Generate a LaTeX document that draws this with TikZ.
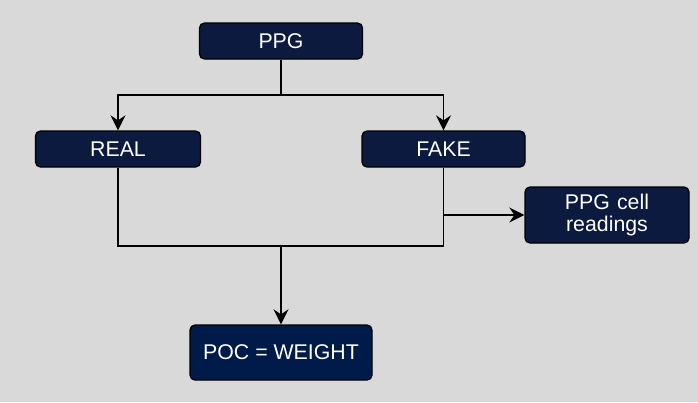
\documentclass[tikz,border=0pt]{standalone}
\usepackage{fontspec}
\setmainfont{Liberation Sans}
\usetikzlibrary{arrows.meta}
\definecolor{bgc}{HTML}{D9D9D9}
\definecolor{boxc}{HTML}{0B1A3E}
\definecolor{boxd}{HTML}{001A4A}
\begin{document}
\begin{tikzpicture}[x=1pt,y=-1pt,
  box/.style={draw=black,line width=1.3pt,rounded corners=5pt,fill=boxc,text=white,
    font=\fontsize{21.3}{23}\selectfont,inner sep=0pt,align=center},
  conn/.style={line width=1.8pt,draw=black},
  arr/.style={conn,-{Stealth[length=15pt,width=15pt,inset=5pt]}}]
\fill[bgc] (0,0) rectangle (698,402);
\useasboundingbox (0,0) rectangle (698,402);
\node[box,minimum width=163pt,minimum height=36pt] (ppg) at (281,41) {PPG};
\node[box,minimum width=165pt,minimum height=36pt] (real) at (118,149) {REAL};
\node[box,minimum width=163pt,minimum height=36pt] (fake) at (443.5,149) {FAKE};
\node[box,minimum width=164pt,minimum height=56pt,text width=150pt] (cell) at (607,215) {PPG cell\\[-1pt]readings};
\node[box,fill=boxd,minimum width=182pt,minimum height=55pt] (poc) at (281,352.5) {POC = WEIGHT};
\coordinate (split) at (281,95);
\coordinate (join) at (281,246);
\draw[conn] (ppg.south) -- (split);
\draw[arr] (split) -| (real.north);
\draw[arr] (split) -| (fake.north);
\draw[conn] (real.south) |- (join);
\draw[conn] (fake.south) |- (join);
\draw[arr] (join) -- (poc.north);
\draw[arr] (fake.south |- cell.west) -- (cell.west);
\end{tikzpicture}
\end{document}
